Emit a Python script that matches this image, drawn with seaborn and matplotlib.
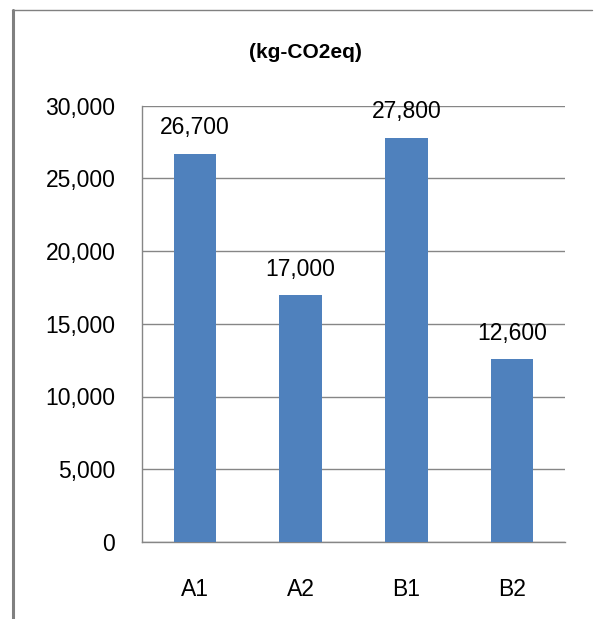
import matplotlib
matplotlib.use("Agg")
import matplotlib.pyplot as plt
import matplotlib.ticker as mticker
from matplotlib.lines import Line2D
import seaborn as sns
import pandas as pd

# Data
categories = ["A1", "A2", "B1", "B2"]
values = [26700, 17000, 27800, 12600]
unit_label = "(kg-CO2eq)"

df = pd.DataFrame({"case": categories, "emission": values})

sns.set_style("white")
plt.rcParams["font.family"] = ["Liberation Sans", "DejaVu Sans"]
plt.rcParams["text.color"] = "black"

grid_col = "#868686"
bar_col = "#4F81BD"

fig = plt.figure(figsize=(5.94, 6.19), dpi=100)
ax = fig.add_axes([142 / 594, 77 / 619, 423 / 594, 436.5 / 619])

sns.barplot(data=df, x="case", y="emission", color=bar_col, width=0.4,
            saturation=1, linewidth=0, ax=ax, zorder=3)

ax.set_ylim(0, 30000)
ax.set_xlim(-0.5, len(categories) - 0.5)
ax.set_yticks(range(0, 30001, 5000))
ax.yaxis.set_major_formatter(mticker.FuncFormatter(lambda v, p: f"{int(v):,}"))
ax.grid(axis="y", color=grid_col, linewidth=1.0, zorder=0)
ax.set_axisbelow(True)

for s in ["top", "right"]:
    ax.spines[s].set_visible(False)
for s in ["left", "bottom"]:
    ax.spines[s].set_color(grid_col)
    ax.spines[s].set_linewidth(1.0)

ax.tick_params(axis="y", length=7.2, width=0.72, color=grid_col, pad=12,
               labelsize=16.5, labelcolor="black")
ax.tick_params(axis="x", which="major", length=0, pad=26, labelsize=16.5,
               labelcolor="black")
ax.set_xticks([i + 0.5 for i in range(-1, len(categories))], minor=True)
ax.tick_params(axis="x", which="minor", length=6.5, width=0.72,
               color=grid_col, direction="out")
ax.set_xlabel("")
ax.set_ylabel("")

for i, v in enumerate(values):
    ax.annotate(f"{v:,}", (i, v), xytext=(0, 13.7), textcoords="offset points",
                ha="center", va="baseline", fontsize=16.5, color="black")

fig.text(305 / 594, 1 - 53 / 619, unit_label, ha="center", va="center",
         fontsize=15, fontweight="bold", color="black")

# chart-area frame
fig.add_artist(Line2D([12 / 594, 592 / 594], [1 - 10 / 619, 1 - 10 / 619],
                      transform=fig.transFigure, color="#808080", linewidth=1.0))
fig.add_artist(Line2D([12.5 / 594, 12.5 / 594], [0, 1 - 10 / 619],
                      transform=fig.transFigure, color="#808080", linewidth=2.2))

fig.savefig("out.png", dpi=100)
